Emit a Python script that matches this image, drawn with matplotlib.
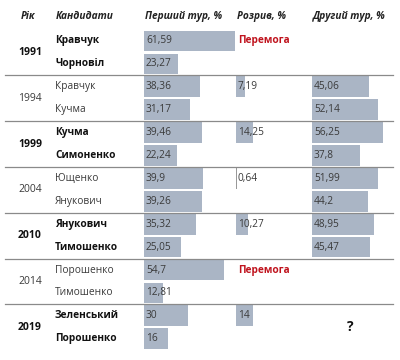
import matplotlib
matplotlib.use("Agg")
import matplotlib.pyplot as plt

plt.rcParams['font.family'] = ['Open Sans', 'DejaVu Sans']

# data
years = ['1991', '1994', '1999', '2004', '2010', '2014', '2019']
bold_year = [True, False, True, False, True, False, True]
candidates = [
    ['Кравчук', 'Чорновіл'],
    ['Кравчук', 'Кучма'],
    ['Кучма', 'Симоненко'],
    ['Ющенко', 'Янукович'],
    ['Янукович', 'Тимошенко'],
    ['Порошенко', 'Тимошенко'],
    ['Зеленський', 'Порошенко'],
]
first_round = [61.59, 23.27, 38.36, 31.17, 39.46, 22.24, 39.9, 39.26,
               35.32, 25.05, 54.7, 12.81, 30, 16]
first_labels = ['61,59', '23,27', '38,36', '31,17', '39,46', '22,24', '39,9',
                '39,26', '35,32', '25,05', '54,7', '12,81', '30', '16']
gap = [None, 7.19, 14.25, 0.64, 10.27, None, 14]
gap_labels = ['Перемога', '7,19', '14,25', '0,64', '10,27', 'Перемога', '14']
second_round = [None, None, 45.06, 52.14, 56.25, 37.8, 51.99, 44.2,
                48.95, 45.47, None, None, None, None]
second_labels = ['', '', '45,06', '52,14', '56,25', '37,8', '51,99', '44,2',
                 '48,95', '45,47', '', '', '', '']

headers = ['Рік', 'Кандидати', 'Перший тур, %', 'Розрив, %', 'Другий тур, %']

# layout (x in pixels, y in rows)
col_x = [20, 55, 144, 236, 312]
scale1, scale_gap, scale2 = 1.47, 1.2, 1.27
bar_color = '#aab5c5'
text_color = '#3a3a3a'
fs = 7.3

fig = plt.figure(figsize=(4, 3.6), dpi=100)
ax = fig.add_axes([0, 0, 1, 1])
ax.set_xlim(0, 400)
ax.set_ylim(13.93, -1.79)
ax.axis('off')

for x, h in zip(col_x, headers):
    ax.text(x + 1, -1.05, h, fontsize=fs, fontweight='bold', style='italic',
            color='#222222', va='center')

for g, year in enumerate(years):
    r0 = 2 * g
    w = 'bold' if bold_year[g] else 'normal'
    c = '#111111' if bold_year[g] else text_color
    ax.text(col_x[0] - 2, r0 + 0.5, year, fontsize=fs + 0.2, fontweight=w,
            color=c, va='center')
    for k, name in enumerate(candidates[g]):
        ax.text(col_x[1], r0 + k, name, fontsize=fs, fontweight=w, color=c,
                va='center')
    # gap column
    if gap[g] is None:
        ax.text(col_x[3] + 2, r0, gap_labels[g], fontsize=fs, fontweight='bold',
                color='#c0141e', va='center')
    else:
        ax.barh(r0, gap[g] * scale_gap, left=col_x[3], height=0.9,
                color=bar_color if gap[g] > 1 else '#999999', linewidth=0)
        ax.text(col_x[3] + 2, r0, gap_labels[g], fontsize=fs, color=text_color,
                va='center')
    if g < len(years) - 1:
        ax.plot([5, 393], [r0 + 1.5, r0 + 1.5], color='#8a8a8a', lw=0.9)

ax.text(350, 12.5, '?', fontsize=10, fontweight='bold', color='#111111',
        va='center', ha='center')

for i, v in enumerate(first_round):
    ax.barh(i, v * scale1, left=col_x[2], height=0.9, color=bar_color,
            linewidth=0)
    ax.text(col_x[2] + 2, i, first_labels[i], fontsize=fs, color=text_color,
            va='center')

for i, v in enumerate(second_round):
    if v is None:
        continue
    ax.barh(i, v * scale2, left=col_x[4], height=0.9, color=bar_color,
            linewidth=0)
    ax.text(col_x[4] + 2, i, second_labels[i], fontsize=fs, color=text_color,
            va='center')

fig.savefig('out.png', dpi=100)
